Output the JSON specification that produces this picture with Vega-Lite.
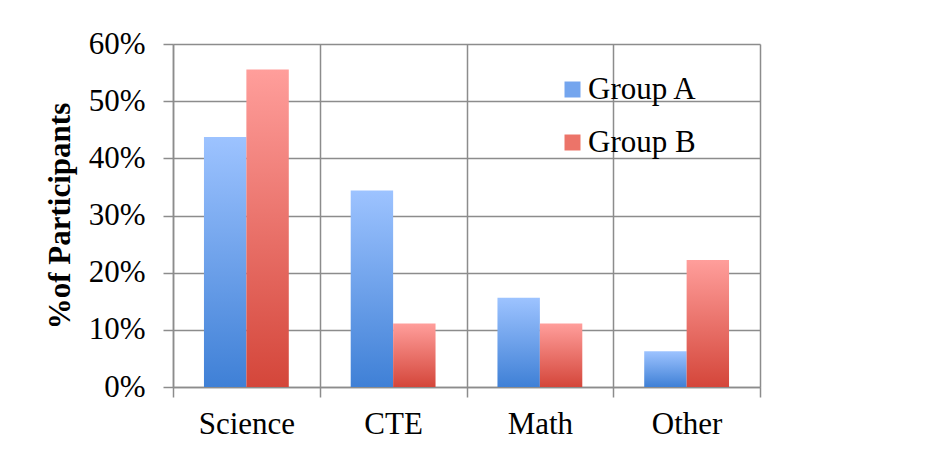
{
  "$schema": "https://vega.github.io/schema/vega-lite/v6.json",
  "width": 587,
  "height": 343,
  "autosize": "none",
  "padding": {"left": 173, "top": 44, "right": 192, "bottom": 68},
  "background": "white",
  "config": {
    "font": "Liberation Serif",
    "view": {"stroke": null}
  },
  "data": {
    "values": [
      {"subject": "Science", "group": "Group A", "pct": 0.4375},
      {"subject": "Science", "group": "Group B", "pct": 0.5556},
      {"subject": "CTE", "group": "Group A", "pct": 0.3438},
      {"subject": "CTE", "group": "Group B", "pct": 0.1111},
      {"subject": "Math", "group": "Group A", "pct": 0.1563},
      {"subject": "Math", "group": "Group B", "pct": 0.1111},
      {"subject": "Other", "group": "Group A", "pct": 0.0625},
      {"subject": "Other", "group": "Group B", "pct": 0.2222}
    ]
  },
  "encoding": {
    "x": {
      "field": "subject",
      "type": "nominal",
      "sort": ["Science", "CTE", "Math", "Other"],
      "scale": {"paddingInner": 0, "paddingOuter": 0},
      "axis": {
        "title": null,
        "labelAngle": 0,
        "labelFontSize": 31,
        "labelColor": "black",
        "labelPadding": 12,
        "tickBand": "extent",
        "tickSize": 10,
        "tickColor": "#8c8c8c",
        "tickWidth": 1.5,
        "domainColor": "#8c8c8c",
        "domainWidth": 1.5,
        "grid": true,
        "gridColor": "#8c8c8c",
        "gridWidth": 1.5
      }
    },
    "xOffset": {
      "field": "group",
      "type": "nominal",
      "scale": {"domain": ["Group A", "Group B"], "paddingInner": 0, "paddingOuter": 0.73}
    },
    "y": {
      "field": "pct",
      "type": "quantitative",
      "scale": {"domain": [0, 0.6], "nice": false},
      "axis": {
        "title": "%of Participants",
        "titleFontSize": 31,
        "titleFontWeight": "bold",
        "titleColor": "black",
        "titlePadding": 12,
        "format": ".0%",
        "values": [0, 0.1, 0.2, 0.3, 0.4, 0.5, 0.6],
        "labelFontSize": 31,
        "labelColor": "black",
        "labelPadding": 18,
        "tickSize": 10,
        "tickColor": "#8c8c8c",
        "tickWidth": 1.5,
        "domainColor": "#8c8c8c",
        "domainWidth": 1.5,
        "gridColor": "#8c8c8c",
        "gridWidth": 1.5
      }
    }
  },
  "layer": [
    {
      "mark": {"type": "bar", "opacity": 0},
      "encoding": {
        "color": {
          "field": "group",
          "type": "nominal",
          "scale": {"domain": ["Group A", "Group B"], "range": ["#74a5ee", "#ec7469"]},
          "legend": {
            "title": null,
            "orient": "none",
            "legendX": 384,
            "legendY": 30,
            "symbolType": "square",
            "symbolSize": 256,
            "symbolOpacity": 1,
            "symbolStrokeWidth": 0,
            "labelFontSize": 31,
            "labelColor": "black",
            "labelOffset": 0,
            "rowPadding": 21
          }
        }
      }
    },
    {
      "transform": [{"filter": "datum.group === 'Group A'"}],
      "mark": {"type": "bar", "color": {"gradient": "linear", "x1": 0, "y1": 0, "x2": 0, "y2": 1, "stops": [{"offset": 0, "color": "#9dc3ff"}, {"offset": 1, "color": "#3f80d6"}]}}
    },
    {
      "transform": [{"filter": "datum.group === 'Group B'"}],
      "mark": {"type": "bar", "color": {"gradient": "linear", "x1": 0, "y1": 0, "x2": 0, "y2": 1, "stops": [{"offset": 0, "color": "#ff9e9b"}, {"offset": 1, "color": "#d4463a"}]}}
    }
  ]
}
